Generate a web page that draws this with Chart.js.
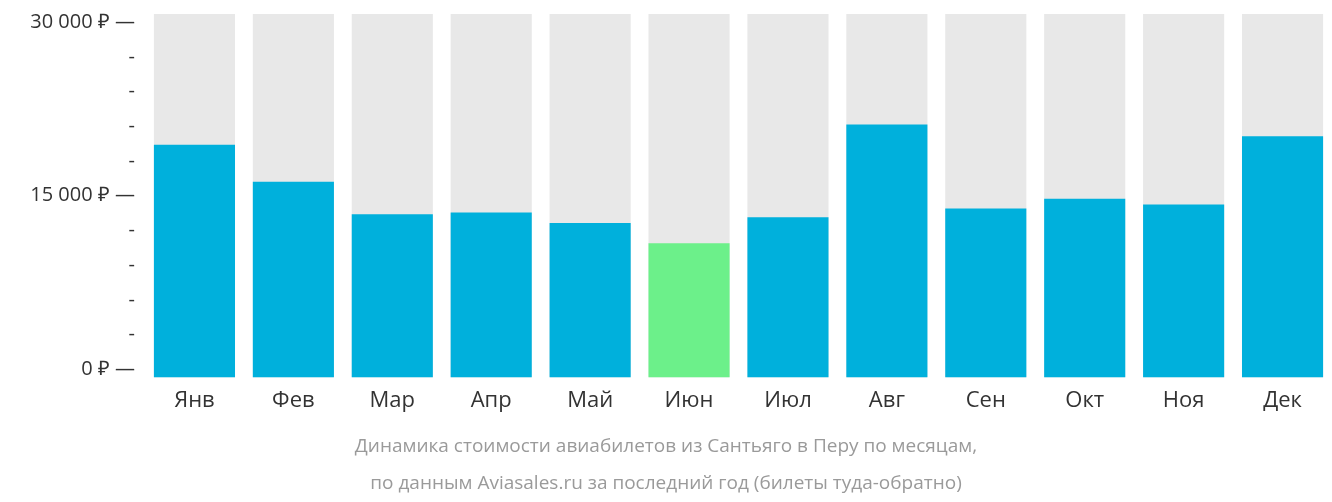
<!DOCTYPE html>
<html><head><meta charset="utf-8">
<script src="https://cdn.jsdelivr.net/npm/chart.js@4"></script>
<style>html,body{margin:0;padding:0;background:#fff}#w{width:1332px;height:502px}</style>
</head><body><div id="w"><canvas id="c"></canvas></div>
<script>
const categories=["Янв","Фев","Мар","Апр","Май","Июн","Июл","Авг","Сен","Окт","Ноя","Дек"];
const prices=[19400,16200,13400,13550,12650,10900,13150,21150,13900,14750,14250,20150];
const cheapest=5;
const bgValue=30700;
const titleLines=["Динамика стоимости авиабилетов из Сантьяго в Перу по месяцам,","по данным Aviasales.ru за последний год (билеты туда-обратно)"];
const fmt=v=>String(v).replace(/\B(?=(\d{3})+(?!\d))/g,' ')+' ₽';
new Chart(document.getElementById('c'),{
 type:'bar',
 data:{labels:categories,datasets:[
  {data:prices,backgroundColor:prices.map((v,i)=>i===cheapest?'#6CF08A':'#00B0DC'),base:-700,barPercentage:0.82,categoryPercentage:1,grouped:false,order:0},
  {data:categories.map(()=>bgValue),backgroundColor:'#E8E8E8',base:-700,barPercentage:0.82,categoryPercentage:1,grouped:false,order:1}
 ]},
 options:{responsive:true,maintainAspectRatio:false,animation:false,
  layout:{padding:{left:0,right:0,top:-14,bottom:0}},
  plugins:{legend:{display:false},tooltip:{enabled:false},
   title:{display:true,position:'bottom',text:titleLines,color:'#9A9A9A',font:{family:'Open Sans',size:19,weight:'normal',lineHeight:1.95},padding:{top:12,bottom:0}}},
  scales:{
   x:{grid:{display:false},border:{display:false},ticks:{color:'#333',font:{family:'Open Sans',size:22},padding:2}},
   y:{min:-700,max:bgValue,grid:{display:false},border:{display:false},afterBuildTicks:s=>{const t=[];for(let v=0;v<=30000;v+=3000)t.push({value:v});s.ticks=t;},
    afterFit:s=>{s.width=145;},
    ticks:{color:'#333',font:{family:'Open Sans',size:20},padding:2,callback:v=>v%15000===0?fmt(v)+' —':'-'}}
  }}
});
</script></body></html>
